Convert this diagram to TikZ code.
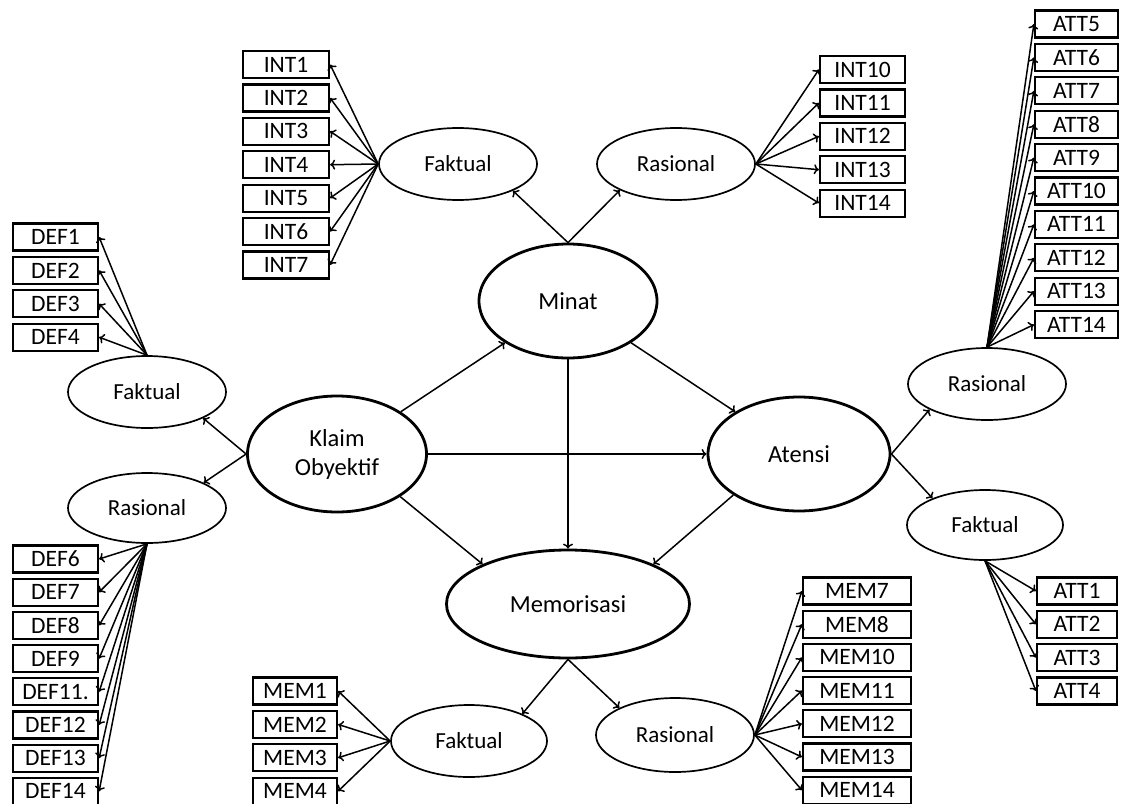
\documentclass[tikz,border=0pt]{standalone}
\usepackage{fontspec}
\setmainfont{Carlito}
\usetikzlibrary{shapes.geometric,arrows.meta}
\tikzset{
lv/.style={draw, ellipse, line width=2.8pt, inner sep=0pt, align=center, font=\fontsize{24.5}{29}\selectfont},
dim/.style={draw, ellipse, line width=1.7pt, inner sep=0pt, minimum width=158pt, minimum height=72pt, font=\fontsize{23}{27}\selectfont},
ind/.style={draw, line width=2.2pt, inner sep=0pt, minimum width=85pt, minimum height=27pt, font=\fontsize{23.5}{27}\selectfont},
arr/.style={-{To[length=5pt,width=10pt]}, line width=1.5pt}
}

\begin{document}
\begin{tikzpicture}[x=1pt,y=-1pt]
\useasboundingbox (0,0) rectangle (1121,803);

% latent variables
\node[lv, minimum width=178pt, minimum height=114pt] (minat) at (568,301) {Minat};
\node[lv, minimum width=179pt, minimum height=116pt] (klaim) at (337,454) {Klaim\\Obyektif};
\node[lv, minimum width=182pt, minimum height=114pt] (atensi) at (799,454) {Atensi};
\node[lv, minimum width=243pt, minimum height=108pt] (memo) at (568,604) {Memorisasi};

% dimensions
\node[dim] (fakint) at (458,164) {Faktual};
\node[dim] (rasint) at (676,164) {Rasional};
\node[dim] (fakdef) at (147,392) {Faktual};
\node[dim, minimum height=70pt] (rasdef) at (147,508) {Rasional};
\node[dim] (rasatt) at (987,384) {Rasional};
\node[dim, minimum width=156pt, minimum height=70pt] (fakatt) at (985,525) {Faktual};
\node[dim, minimum width=156pt] (fakmem) at (469,741) {Faktual};
\node[dim, minimum height=74pt] (rasmem) at (675,735) {Rasional};

% structural paths
\draw[arr] (minat.north) -- (fakint.-26);
\draw[arr] (minat.north) -- (rasint.205);
\draw[arr] (klaim.west) -- (fakdef.-25);
\draw[arr] (klaim.west) -- (rasdef.24);
\draw[arr] (klaim) -- (minat);
\draw[arr] (klaim) -- (atensi);
\draw[arr] (klaim.-34) -- (memo.155);
\draw[arr] (minat) -- (atensi);
\draw[arr] (minat.south) -- (memo.north);
\draw[arr] (atensi.212) -- (memo.25.5);
\draw[arr] (atensi.east) -- (rasatt.204);
\draw[arr] (atensi.east) -- (fakatt.153);
\draw[arr] (memo.south) -- (fakmem.27);
\draw[arr] (memo.south) -- (rasmem.154);

% indicators
\foreach \n [count=\i from 0] in {1,...,7}{
	\node[ind, minimum width=86pt] (int\n) at (286,64.5+33.4*\i) {INT\n};
	\draw[arr] (fakint.west) -- (int\n.east);
}
\foreach \n [count=\i from 0] in {10,...,14}{
	\node[ind] (int\n) at (862.5,69.5+33.4*\i) {INT\n};
	\draw[arr] (rasint.east) -- (int\n.west);
}
\foreach \n [count=\i from 0] in {5,...,14}{
	\node[ind, minimum width=83pt] (att\n) at (1076.5,24+33.4*\i) {ATT\n};
	\draw[arr] (rasatt.north) -- (att\n.west);
}
\foreach \n [count=\i from 0] in {1,...,4}{
	\node[ind, minimum width=80pt] (att\n) at (1077,591+33.3*\i) {ATT\n};
	\draw[arr] (fakatt.south) -- (att\n.west);
}
\foreach \n [count=\i from 0] in {1,...,4}{
	\node[ind] (def\n) at (55.5,237+33.4*\i) {DEF\n};
	\draw[arr] (fakdef.north) -- (def\n.east);
}
\foreach \n/\t [count=\i from 0] in {6/DEF6,7/DEF7,8/DEF8,9/DEF9,11/DEF11.,12/DEF12,13/DEF13,14/DEF14}{
	\node[ind] (def\n) at (55.5,559+33.2*\i) {\t};
	\draw[arr] (rasdef.south) -- (def\n.east);
}
\foreach \n [count=\i from 0] in {1,...,4}{
	\node[ind, minimum width=84pt] (mem\n) at (295,691+33.4*\i) {MEM\n};
	\draw[arr] (fakmem.west) -- (mem\n.east);
}
\foreach \n [count=\i from 0] in {7,8,10,11,12,13,14}{
	\node[ind, minimum width=108pt] (mem\n) at (857,591+33.2*\i) {MEM\n};
	\draw[arr] (rasmem.east) -- (mem\n.west);
}
\end{tikzpicture}
\end{document}
